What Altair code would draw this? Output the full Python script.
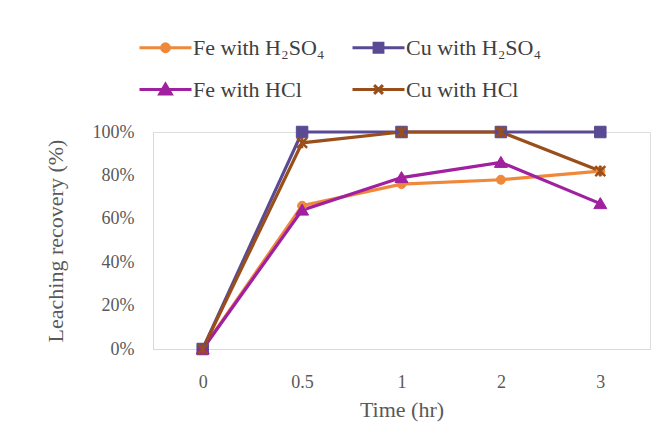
import altair as alt
import pandas as pd

times = ["0", "0.5", "1", "2", "3"]
series = ["Fe with H₂SO₄", "Cu with H₂SO₄", "Fe with HCl", "Cu with HCl"]
colors = ["#F0883A", "#5A4A94", "#A0209F", "#9A4E1A"]
fe_h2so4 = [0.0, 0.66, 0.76, 0.78, 0.82]
cu_h2so4 = [0.0, 1.00, 1.00, 1.00, 1.00]
fe_hcl = [0.0, 0.64, 0.79, 0.86, 0.67]
cu_hcl = [0.0, 0.95, 1.00, 1.00, 0.82]
values = [fe_h2so4, cu_h2so4, fe_hcl, cu_hcl]

# marker paths for the plot (unit = sqrt(size)/2)
plot_shapes = [
    "M0.9,0A0.9,0.9,0,1,1,-0.9,0A0.9,0.9,0,1,1,0.9,0Z",
    "M-1.15,-1.15H1.15V1.15H-1.15Z",
    "M0,-1.2L1.3,1L-1.3,1Z",
    "M-1,-1L1,1M-1,1L1,-1M0,-1.1V1.1",
]
# legend symbols: line + marker
legend_shapes = [
    "M-1,0H1M0.15,0A0.15,0.15,0,1,1,-0.15,0A0.15,0.15,0,1,1,0.15,0Z",
    "M-1,0H1M-0.17,-0.17H0.17V0.17H-0.17Z",
    "M-1,0H1M0,-0.2L0.22,0.17L-0.22,0.17Z",
    "M-1,0H1M-0.17,-0.17L0.17,0.17M-0.17,0.17L0.17,-0.17",
]

rows = []
for s, vals in zip(series, values):
    for t, v in zip(times, vals):
        rows.append({"time": t, "series": s, "value": v})
df = pd.DataFrame(rows)

font = "Liberation Serif"
txt = "#595959"

x_enc = alt.X(
    "time:O",
    sort=times,
    scale=alt.Scale(type="point", padding=0.5),
    axis=alt.Axis(
        title="Time (hr)", labelAngle=0, ticks=False, grid=False,
        domainColor="#d9d9d9", labelPadding=24, titlePadding=8,
        labelFontSize=18, titleFontSize=22, labelFont=font, titleFont=font,
        labelColor=txt, titleColor=txt, titleFontWeight="normal",
    ),
)
y_enc = alt.Y(
    "value:Q",
    scale=alt.Scale(domain=[0, 1], nice=False),
    axis=alt.Axis(
        title="Leaching recovery (%)", format=".0%", values=[0, 0.2, 0.4, 0.6, 0.8, 1.0],
        ticks=False, grid=False, domainColor="#d9d9d9", labelPadding=19,
        titlePadding=25, labelFontSize=18, titleFontSize=22, labelFont=font,
        titleFont=font, labelColor=txt, titleColor=txt, titleFontWeight="normal",
    ),
)

stroke_scale = alt.Scale(domain=series, range=colors)
fill_scale = alt.Scale(domain=series, range=colors)

lines = alt.Chart(df).mark_line(strokeWidth=3.2).encode(
    x=x_enc, y=y_enc,
    stroke=alt.Stroke("series:N", scale=stroke_scale, legend=None),
    order=alt.Order("time:O"),
)

point_layers = []
for s, c, shp in zip(series, colors, plot_shapes):
    filled = not shp.startswith("M-1,-1L")
    pl = alt.Chart(df).transform_filter(alt.datum.series == s).mark_point(
        shape=shp, size=100, filled=filled, color=c, opacity=1,
        strokeWidth=2.4 if not filled else 1,
        stroke=c, fill=c if filled else "transparent",
    ).encode(x=x_enc, y=y_enc)
    point_layers.append(pl)


def make_legend():
    return alt.Legend(
        orient="none", legendX=-15, legendY=-112, columns=2, direction="horizontal",
        title=None, symbolOpacity=1, symbolStrokeWidth=3,
        labelFont=font, labelFontSize=22, labelColor="#404040",
        columnPadding=21, rowPadding=3, labelOffset=0,
        symbolSize=2704, labelLimit=300,
    )


legend_layer = alt.Chart(df).mark_point(filled=True, opacity=0, size=2704, strokeWidth=3).encode(
    x=x_enc, y=y_enc,
    stroke=alt.Stroke("series:N", scale=stroke_scale, legend=make_legend()),
    fill=alt.Fill("series:N", scale=fill_scale, legend=make_legend()),
    shape=alt.Shape("series:N", scale=alt.Scale(domain=series, range=legend_shapes),
                    legend=make_legend()),
)

chart = alt.layer(legend_layer, lines, *point_layers).properties(
    width=497, height=217,
    autosize=alt.AutoSizeParams(type="none"),
    padding={"left": 153, "top": 132, "right": 20, "bottom": 99},
).configure_view(stroke=None).configure(background="white")

chart.save("out.html", embed_options={"renderer": "svg", "actions": False})
